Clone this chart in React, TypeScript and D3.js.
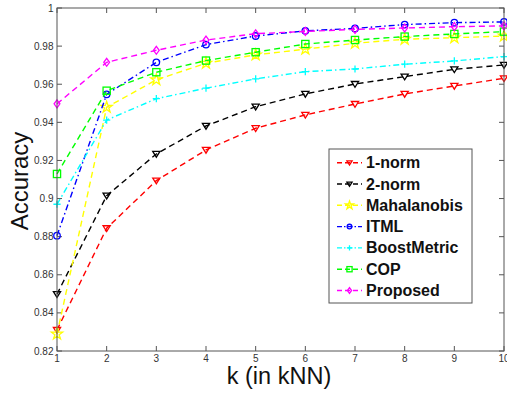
import React from "react";
import * as d3 from "d3";

const kValues = [1, 2, 3, 4, 5, 6, 7, 8, 9, 10];
const yTicks = [0.82, 0.84, 0.86, 0.88, 0.9, 0.92, 0.94, 0.96, 0.98, 1];
const seriesNames = ["1-norm", "2-norm", "Mahalanobis", "ITML", "BoostMetric", "COP", "Proposed"];
const norm1 = [0.831, 0.8844, 0.9094, 0.9255, 0.9369, 0.9439, 0.9496, 0.9549, 0.9591, 0.9631];
const norm2 = [0.8498, 0.9015, 0.9234, 0.9381, 0.9482, 0.9549, 0.9601, 0.964, 0.9678, 0.9701];
const mahalanobis = [0.8289, 0.9479, 0.9623, 0.971, 0.9754, 0.9784, 0.9815, 0.9836, 0.9844, 0.9853];
const itml = [0.8805, 0.9547, 0.9715, 0.9808, 0.9853, 0.988, 0.9893, 0.9913, 0.9923, 0.9927];
const boostMetric = [0.897, 0.9412, 0.9524, 0.9579, 0.9628, 0.9666, 0.968, 0.9705, 0.9722, 0.9745];
const cop = [0.9129, 0.9566, 0.9663, 0.9724, 0.9768, 0.9811, 0.9832, 0.985, 0.9864, 0.9876];
const proposed = [0.9497, 0.9715, 0.9778, 0.9832, 0.9865, 0.9877, 0.9888, 0.9895, 0.9902, 0.9906];

const seriesValues = [norm1, norm2, mahalanobis, itml, boostMetric, cop, proposed];
const colors = ["#ff0000", "#000000", "#ffff00", "#0000ff", "#00ffff", "#00ff00", "#ff00ff"];
const dashes = ["6,4", "6,4", "6,4", "6,3,1.5,3", "6,3,1.5,3", "6,4", "6,4"];
const markers = ["tri", "tri", "star", "circle", "plus", "square", "diamond"];

function Marker({ type, x, y, color, s = 3.6 }: { type: string; x: number; y: number; color: string; s?: number }) {
  const common = { fill: "none", stroke: color, strokeWidth: 1.3 };
  if (type === "tri") {
    return <path d={`M${x - s},${y - s * 0.7}L${x + s},${y - s * 0.7}L${x},${y + s * 0.9}Z`} {...common} />;
  }
  if (type === "circle") return <circle cx={x} cy={y} r={s * 0.9} {...common} />;
  if (type === "square") return <rect x={x - s} y={y - s} width={2 * s} height={2 * s} {...common} />;
  if (type === "diamond")
    return <path d={`M${x},${y - s * 1.1}L${x + s * 0.8},${y}L${x},${y + s * 1.1}L${x - s * 0.8},${y}Z`} {...common} />;
  if (type === "plus")
    return <path d={`M${x - s},${y}L${x + s},${y}M${x},${y - s}L${x},${y + s}`} {...common} />;
  if (type === "star") {
    const sym = d3.symbol(d3.symbolStar, 3 * s * s)();
    return <path d={sym || ""} transform={`translate(${x},${y})`} {...common} />;
  }
  return null;
}

export default function App() {
  const W = 507;
  const H = 394;
  const left = 57;
  const right = 504;
  const top = 8;
  const bottom = 351;
  const x = d3.scaleLinear().domain([1, 10]).range([left, right]);
  const y = d3.scaleLinear().domain([0.82, 1]).range([bottom, top]);
  const line = d3
    .line<number>()
    .x((_, i) => x(kValues[i]))
    .y((d) => y(d));
  const tickLen = 5;
  const axisColor = "#555";
  const labelColor = "#333";

  const legX = 329;
  const legY = 149;
  const legW = 143;
  const legH = 154;
  const rowY = (i: number) => 162.7 + i * 21.3;

  return (
    <svg
      width={W}
      height={H}
      style={{ position: "absolute", left: 0, top: 0, background: "#fff" }}
      fontFamily="Liberation Sans, Arial, sans-serif"
    >
      <rect x={0} y={0} width={W} height={H} fill="#fff" />
      {kValues.map((k) => (
        <g key={"xt" + k}>
          <line x1={x(k)} x2={x(k)} y1={bottom} y2={bottom - tickLen} stroke={axisColor} strokeWidth={1} />
          <line x1={x(k)} x2={x(k)} y1={top} y2={top + tickLen} stroke={axisColor} strokeWidth={1} />
          <text x={x(k)} y={362} fontSize={10} fill={labelColor} textAnchor="middle">
            {k}
          </text>
        </g>
      ))}
      {yTicks.map((t) => (
        <g key={"yt" + t}>
          <line x1={left} x2={left + tickLen} y1={y(t)} y2={y(t)} stroke={axisColor} strokeWidth={1} />
          <line x1={right} x2={right - tickLen} y1={y(t)} y2={y(t)} stroke={axisColor} strokeWidth={1} />
          <text x={53.5} y={y(t) + 3.5} fontSize={10} fill={labelColor} textAnchor="end">
            {String(t)}
          </text>
        </g>
      ))}
      {seriesValues.map((vals, si) => (
        <g key={"s" + si}>
          <path
            d={line(vals) || ""}
            fill="none"
            stroke={colors[si]}
            strokeWidth={1.4}
            strokeDasharray={dashes[si]}
          />
          {vals.map((v, i) => (
            <Marker key={i} type={markers[si]} x={x(kValues[i])} y={y(v)} color={colors[si]} />
          ))}
        </g>
      ))}
      <rect x={left} y={top} width={right - left} height={bottom - top} fill="none" stroke={axisColor} strokeWidth={1} />
      <rect x={legX} y={legY} width={legW} height={legH} fill="#fff" stroke={axisColor} strokeWidth={1} />
      {seriesNames.map((name, i) => (
        <g key={"l" + i}>
          <line
            x1={337}
            x2={362}
            y1={rowY(i)}
            y2={rowY(i)}
            stroke={colors[i]}
            strokeWidth={1.4}
            strokeDasharray={dashes[i] === "6,4" ? "5,3" : "5,2,1.5,2"}
          />
          <Marker type={markers[i]} x={349.5} y={rowY(i)} color={colors[i]} s={2.6} />
          <text x={366} y={rowY(i) + 5.5} fontSize={16} fontWeight="bold" fill="#111">
            {name}
          </text>
        </g>
      ))}
      <text x={279} y={384} fontSize={23.5} textAnchor="middle" fill="#111">
        k (in kNN)
      </text>
      <text transform={`translate(28,181) rotate(-90)`} fontSize={24} textAnchor="middle" fill="#111">
        Accuracy
      </text>
    </svg>
  );
}
